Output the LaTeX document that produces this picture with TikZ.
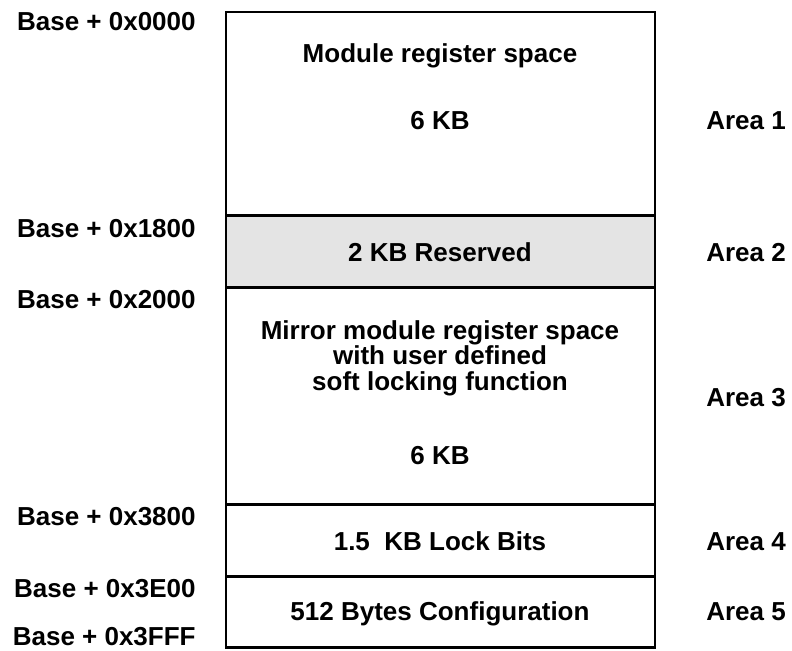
\documentclass[tikz,border=0pt]{standalone}
\usepackage{fontspec}
\setmainfont{Liberation Sans}
\usetikzlibrary{positioning}

\definecolor{resgray}{HTML}{E4E4E4}

\tikzset{
    lbl/.style={font=\bfseries\fontsize{14.8}{14.5}\selectfont, inner sep=0pt, anchor=base},
    addr/.style={lbl, anchor=base east},
    arealbl/.style={lbl, anchor=base west},
    blockline/.style={line width=1.7pt}
}

\begin{document}
\begin{tikzpicture}[x=0.02cm, y=-0.02cm]
    \useasboundingbox (0,0) rectangle (792,650);

    % 1. Reserved area shading
    \fill[resgray] (226,215) rectangle (655,287);

    % 2. Outer box and the area borders
    \draw[blockline] (226,12) rectangle (655,647);
    \draw[blockline] (226,215) -- (655,215);
    \draw[blockline] (226,287) -- (655,287);
    \draw[blockline] (226,504) -- (655,504);
    \draw[blockline] (226,576) -- (655,576);

    % 3. Texts inside the areas
    \node[lbl] (modname) at (440,62) {Module register space};
    \node[lbl] (modsize) at (440,129) {6 KB};
    \node[lbl] (reserved) at (440,261) {2 KB Reserved};
    \node[lbl, align=center] (mirname) at (440,390) {Mirror module register space\\with user defined\\soft locking function};
    \node[lbl] (mirsize) at (440,464) {6 KB};
    \node[lbl] (lockbits) at (440,550) {1.5\ \ KB Lock Bits};
    \node[lbl] (config) at (440,620) {512 Bytes Configuration};

    % 4. Addresses on the left
    \node[addr] (base0) at (196,30) {Base + 0x0000};
    \node[addr] (base1) at (196,237) {Base + 0x1800};
    \node[addr] (base2) at (196,308) {Base + 0x2000};
    \node[addr] (base3) at (196,525) {Base + 0x3800};
    \node[addr] (base4) at (196,597) {Base + 0x3E00};
    \node[addr] (base5) at (196,645) {Base + 0x3FFF};

    % 5. Area names on the right
    \node[arealbl] (area1) at (706,129) {Area 1};
    \node[arealbl] (area2) at (706,261) {Area 2};
    \node[arealbl] (area3) at (706,406) {Area 3};
    \node[arealbl] (area4) at (706,550) {Area 4};
    \node[arealbl] (area5) at (706,620) {Area 5};
\end{tikzpicture}
\end{document}
